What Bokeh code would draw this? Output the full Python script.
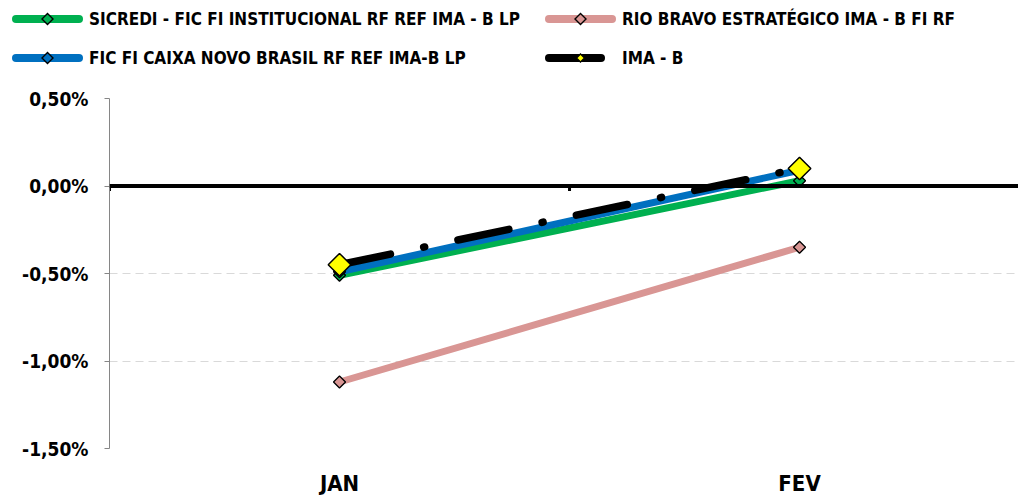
import math
from bokeh.plotting import figure
from bokeh.layouts import column
from bokeh.models import Range1d, FixedTicker, Span, Div
from bokeh.embed import file_html
from bokeh.resources import INLINE

categories = ["JAN", "FEV"]
sicredi = [-0.51, 0.03]
rio_bravo = [-1.12, -0.35]
caixa = [-0.49, 0.09]
ima_b = [-0.45, 0.10]
y_ticks = [-1.5, -1.0, -0.5, 0.0, 0.5]
y_tick_labels = ["-1,50%", "-1,00%", "-0,50%", "0,00%", "0,50%"]

names = ["SICREDI - FIC FI INSTITUCIONAL RF REF IMA - B LP",
         "RIO BRAVO ESTRATÉGICO IMA - B FI RF",
         "FIC FI CAIXA NOVO BRASIL RF REF IMA-B LP",
         "IMA - B"]
colors = ["#00B050", "#D99694", "#0070C0", "black"]
marker_fill = ["#00B050", "#D99694", "#0070C0", "#FFFF00"]
dashes = ["solid", "solid", "solid", "52 34 1 34"]

FONT = "'DejaVu Sans Condensed', 'DejaVu Sans', sans-serif"
ROT = math.pi / 4

xs = [i + 0.5 for i in range(len(categories))]

# ---------- main chart ----------
p = figure(width=1018, height=418, output_backend="svg", toolbar_location=None,
           x_range=Range1d(0, 1.976), y_range=Range1d(-1.5, 0.5),
           min_border_left=109, min_border_right=0, min_border_bottom=44, min_border_top=18)
p.outline_line_color = None

p.xgrid.visible = False
p.ygrid.ticker = FixedTicker(ticks=y_ticks)
p.ygrid.grid_line_color = "#d9d9d9"
p.ygrid.grid_line_dash = "8 5"
p.ygrid.grid_line_width = 1

p.yaxis.ticker = FixedTicker(ticks=y_ticks)
p.yaxis.major_label_overrides = {t: l for t, l in zip(y_ticks, y_tick_labels)}
p.yaxis.axis_line_color = "#868686"
p.yaxis.major_tick_line_color = "#868686"
p.yaxis.major_tick_in = 0
p.yaxis.major_tick_out = 5
p.yaxis.minor_tick_line_color = None
p.yaxis.major_label_text_font = FONT
p.yaxis.major_label_text_font_style = "bold"
p.yaxis.major_label_text_font_size = "19px"
p.yaxis.major_label_text_color = "black"
p.yaxis.major_label_standoff = 16

p.xaxis.ticker = FixedTicker(ticks=xs)
p.xaxis.major_label_overrides = {x: c for x, c in zip(xs, categories)}
p.xaxis.axis_line_color = None
p.xaxis.major_tick_line_color = None
p.xaxis.major_tick_in = 0
p.xaxis.major_tick_out = 0
p.xaxis.minor_tick_line_color = None
p.xaxis.major_label_text_font = FONT
p.xaxis.major_label_text_font_style = "bold"
p.xaxis.major_label_text_font_size = "22px"
p.xaxis.major_label_text_color = "black"
p.xaxis.major_label_standoff = 22

# horizontal category axis crossing at zero
p.add_layout(Span(location=0, dimension="width", line_color="black", line_width=4))
bounds = list(range(len(categories) + 1))
p.segment(x0=bounds, x1=bounds, y0=[0] * len(bounds), y1=[-0.028] * len(bounds),
          line_color="black", line_width=3)

series_vals = [sicredi, rio_bravo, caixa, ima_b]
draw_order = [1, 0, 2, 3]
for i in draw_order:
    p.line(xs, series_vals[i], line_color=colors[i], line_width=7 if i != 3 else 7.5,
           line_cap="round", line_dash=dashes[i])
for i in draw_order:
    big = i == 3
    p.scatter(xs, series_vals[i], marker="square", angle=ROT, size=16 if big else 8.5,
              fill_color=marker_fill[i], line_color="black", line_width=1.5 if big else 1.3)

# ---------- legend strip (two columns, two rows) ----------
col_x = [16, 549]
row_y = [19, 58]
glyph_w = 63
parts = []
for i, name in enumerate(names):
    gx = col_x[i % 2]
    gy = row_y[i // 2]
    dash_attr = "" if dashes[i] == "solid" else ' stroke-dasharray="%s"' % dashes[i].replace(" ", ",")
    parts.append('<line x1="%d" y1="%d" x2="%d" y2="%d" stroke="%s" stroke-width="8" '
                 'stroke-linecap="round"%s/>' % (gx, gy, gx + glyph_w, gy, colors[i], dash_attr))
    cx = gx + glyph_w / 2
    r = 5.5 if i != 3 else 4
    pts = "%.1f,%.1f %.1f,%.1f %.1f,%.1f %.1f,%.1f" % (cx, gy - r, cx + r, gy, cx, gy + r, cx - r, gy)
    parts.append('<polygon points="%s" fill="%s" stroke="black" stroke-width="1.4"/>'
                 % (pts, marker_fill[i]))
    parts.append('<text x="%d" y="%d" dominant-baseline="central" font-weight="bold" '
                 'font-size="17px" fill="black">%s</text>' % (gx + glyph_w + 10, gy, name))

svg = ('<svg xmlns="http://www.w3.org/2000/svg" width="1018" height="80" '
       'style="display:block;font-family:%s">%s</svg>' % (FONT, "".join(parts)))
legend_div = Div(text=svg, width=1018, height=80, margin=0,
                 styles={"padding": "0", "margin": "0"})

layout = column(legend_div, p, spacing=0)
open("out.html", "w").write(file_html(layout, INLINE))
